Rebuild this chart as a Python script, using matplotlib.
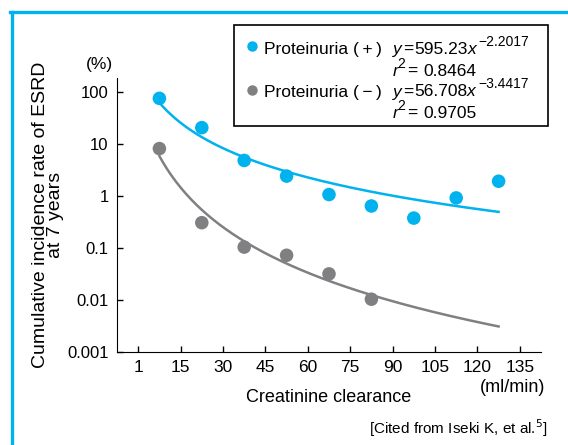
import numpy as np
import matplotlib.pyplot as plt
from matplotlib.lines import Line2D

plt.rcParams['font.family'] = ['Liberation Sans', 'DejaVu Sans']

# tick labels on the x axis (creatinine clearance, ml/min)
x_ticklabels = ['1', '15', '30', '45', '60', '75', '90', '105', '120', '135']
# clearance class index for each point (1 = 1-15, 2 = 15-30, ...)
pos_class = [1, 2, 3, 4, 5, 6, 7, 8, 9]
pos_rate = [77, 21, 4.9, 2.45, 1.08, 0.65, 0.38, 0.93, 1.95]
neg_class = [1, 2, 3, 4, 5, 6]
neg_rate = [8.3, 0.31, 0.105, 0.073, 0.032, 0.0104]

blue = '#00b2ee'
grey = '#808083'

fig = plt.figure(figsize=(5.68, 4.45), dpi=100)
ax = fig.add_axes([117/568, 1-352/445, (541-117)/568, (352-78)/445])

# power-law fits in log-log space
def power_fit(n, y):
    b, a = np.polyfit(np.log10(n), np.log10(y), 1)
    return a, b

nn = np.linspace(1, 9, 200)
for n, y, c in [(pos_class, pos_rate, blue), (neg_class, neg_rate, grey)]:
    a, b = power_fit(n, y)
    ax.plot(nn - 0.5, 10**a * nn**b, color=c, lw=1.8, zorder=2)
    ax.scatter(np.array(n) - 0.5, y, s=95, color=c, edgecolor='none', zorder=3)

ax.set_yscale('log')
ax.set_ylim(0.001, 190)
ax.set_xlim(-0.5, 9.5)
ax.set_yticks([100, 10, 1, 0.1, 0.01, 0.001])
ax.set_yticklabels(['100', '10', '1', '0.1', '0.01', '0.001'])
ax.minorticks_off()
ax.set_xticks(range(len(x_ticklabels)))
ax.set_xticklabels(x_ticklabels)
for s in ['top', 'right']:
    ax.spines[s].set_visible(False)
ax.tick_params(direction='in', length=4, width=1, labelsize=12.5, pad=6)
ax.tick_params(axis='y', labelsize=12)
ax.set_ylabel('Cumulative incidence rate of ESRD\nat 7 years', fontsize=14,
              linespacing=0.85, labelpad=2)
ax.set_xlabel('Creatinine clearance', fontsize=13, labelpad=10)

fig.text(113/568, 1-65/445, '(%)', fontsize=12.5, ha='right', va='center')
fig.text(545/568, 1-387/445, '(ml/min)', fontsize=13, ha='right', va='center')
fig.text(548/568, 1-428/445, '[Cited from Iseki K, et al.$^5$]', fontsize=11,
         ha='right', va='center')

# legend box with fit equations
fig.patches.append(plt.Rectangle((234/568, 1-126/445), (548-234)/568, 101/445,
                                 transform=fig.transFigure, fill=False,
                                 edgecolor='black', lw=1.2))
fig.add_artist(Line2D([252/568], [1-46/445], marker='o', markersize=6.5,
                      color=blue, transform=fig.transFigure))
fig.add_artist(Line2D([252/568], [1-90/445], marker='o', markersize=6.5,
                      color=grey, transform=fig.transFigure))
fig.text(264/568, 1-54/445, 'Proteinuria (\u2009+\u2009)', fontsize=12.5, va='baseline')
fig.text(264/568, 1-96.5/445, 'Proteinuria (\u2009\u2212\u2009)', fontsize=12.5, va='baseline')

renderer = fig.canvas.get_renderer()

def chain(x_px, base, pieces):
    # pieces: (text, fontsize, italic, raise_px, gap_after_px)
    for txt, fs, it, dy, gap in pieces:
        t = fig.text(x_px/568, 1-(base-dy)/445, txt, fontsize=fs, va='baseline',
                     style='italic' if it else 'normal')
        x_px = x_px + t.get_window_extent(renderer).width + gap

for base, coef, expo in [(54, '595.23', '\u22122.2017'), (96.5, '56.708', '\u22123.4417')]:
    chain(393, base, [('y', 12.5, True, 0, 1), ('=', 12.5, False, 0, 1),
                      (coef, 12.5, False, 0, 0), ('x', 12.5, True, 0, 2),
                      (expo, 10, False, 8, 0)])
for base, r2 in [(75.5, '0.8464'), (117.5, '0.9705')]:
    chain(393, base, [('r', 12.5, True, 0, -1), ('2', 10, False, 7, 1),
                      ('=', 12.5, False, 0, 6), (r2, 12.5, False, 0, 0)])

# blue frame at top and left
fig.add_artist(Line2D([11.5/568, 11.5/568], [0, 1-11.5/445], color=blue, lw=2.4,
                      transform=fig.transFigure))
fig.add_artist(Line2D([10/568, 1], [1-11.5/445, 1-11.5/445], color=blue, lw=2.4,
                      transform=fig.transFigure))

fig.savefig('out.png', dpi=100)
